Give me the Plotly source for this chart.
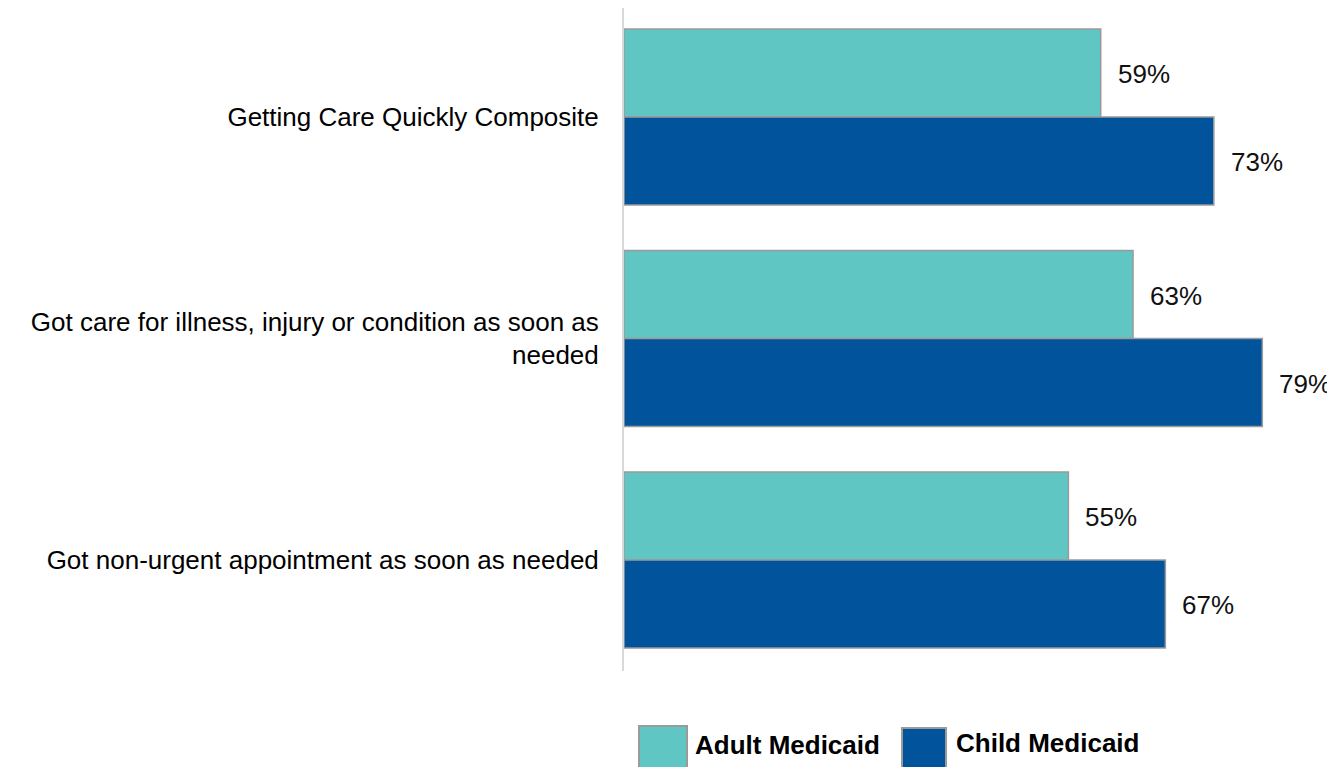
import plotly.graph_objects as go

# data
categories = [
    "Getting Care Quickly Composite",
    "Got care for illness, injury or condition as soon as<br>needed",
    "Got non-urgent appointment as soon as needed",
]
adult_medicaid = [59, 63, 55]
child_medicaid = [73, 79, 67]
series_names = ["Adult Medicaid", "Child Medicaid"]

teal = "#60C6C4"
blue = "#01549B"
font_family = "Liberation Sans, Arial, sans-serif"

# the page body adds an 8px margin, so the figure is drawn 8px smaller
# and all pixel positions below are given in window coordinates
page_off = 8
plot_left, plot_right, plot_top, plot_bottom = 624, 1335, 8, 671
plot_w = plot_right - plot_left
plot_h = plot_bottom - plot_top
cat_step = 221.5          # pixels between category centres
first_centre = 117        # window y of first category centre

fig = go.Figure()
fig.add_trace(go.Bar(
    y=categories, x=adult_medicaid, name=series_names[0], orientation="h",
    marker=dict(color=teal, line=dict(color="#9a9a9a", width=1.5)),
))
fig.add_trace(go.Bar(
    y=categories, x=child_medicaid, name=series_names[1], orientation="h",
    marker=dict(color=blue, line=dict(color="#9a9a9a", width=1.5)),
))

# value labels to the right of each bar
for cat, a, c in zip(categories, adult_medicaid, child_medicaid):
    for val, shift in ((a, 43), (c, -45)):
        fig.add_annotation(
            x=val, y=cat, text=f"{val}%", showarrow=False,
            xanchor="left", yanchor="middle", xshift=15, yshift=shift,
            font=dict(size=26, color="#111111", family=font_family),
        )

# hand-made legend with large swatches at the bottom
def px_x(p):
    return (p - plot_left) / plot_w
def px_y(p):
    return (plot_bottom - p) / plot_h

legend_items = [
    (series_names[0], teal, 639, 687, 726, 693, 745),
    (series_names[1], blue, 902, 946, 728, 954, 743),
]
for name, color, x0, x1, top, tx, ty in legend_items:
    fig.add_shape(
        type="rect", xref="paper", yref="paper",
        x0=px_x(x0), x1=px_x(x1), y0=px_y(top), y1=px_y(800),
        fillcolor=color, line=dict(color="#9a9a9a", width=2),
    )
    fig.add_annotation(
        xref="paper", yref="paper", x=px_x(tx), y=px_y(ty),
        text=f"<b>{name}</b>", showarrow=False,
        xanchor="left", yanchor="middle",
        font=dict(size=26, color="#000000", family=font_family),
    )

# category range so that the centres land where the reference has them
top_units = (first_centre - plot_top) / cat_step
span_units = plot_h / cat_step

fig.update_layout(
    width=1335 - page_off, height=767 - page_off,
    margin=dict(l=plot_left - page_off, r=0, t=plot_top - page_off,
                b=767 - plot_bottom),
    barmode="group", bargap=0.205, bargroupgap=0,
    showlegend=False,
    plot_bgcolor="white", paper_bgcolor="white",
    font=dict(family=font_family, size=26, color="#000000"),
)
fig.update_xaxes(
    range=[0, plot_w / 8.08], visible=False, showgrid=False, zeroline=False,
)
fig.update_yaxes(
    range=[span_units - top_units, -top_units],
    showgrid=False, zeroline=False,
    showline=True, linecolor="#d9d9d9", linewidth=2,
    ticks="", ticklabelstandoff=18,
    tickfont=dict(size=26, color="#000000", family=font_family),
)

fig.write_html("out.html")
